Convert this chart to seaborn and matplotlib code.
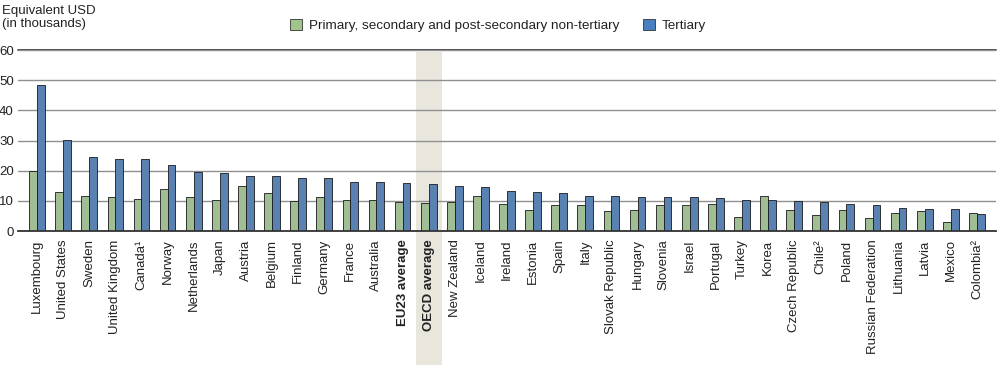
import pandas as pd
import matplotlib
matplotlib.use('Agg')
import matplotlib.pyplot as plt
import matplotlib.transforms as mtransforms
from matplotlib.patches import Rectangle, Patch
import seaborn as sns

countries = ['Luxembourg', 'United States', 'Sweden', 'United Kingdom', 'Canada¹', 'Norway',
             'Netherlands', 'Japan', 'Austria', 'Belgium', 'Finland', 'Germany', 'France',
             'Australia', 'EU23 average', 'OECD average', 'New Zealand', 'Iceland', 'Ireland',
             'Estonia', 'Spain', 'Italy', 'Slovak Republic', 'Hungary', 'Slovenia', 'Israel',
             'Portugal', 'Turkey', 'Korea', 'Czech Republic', 'Chile²', 'Poland',
             'Russian Federation', 'Lithuania', 'Latvia', 'Mexico', 'Colombia²']
non_tertiary = [19.8, 13.1, 11.6, 11.2, 10.7, 13.8, 11.2, 10.2, 14.8, 12.5, 10.1, 11.4, 10.2,
                10.4, 9.7, 9.2, 9.6, 11.7, 9.1, 6.9, 8.6, 8.7, 6.6, 7.0, 8.5, 8.5,
                9.1, 4.5, 11.7, 7.0, 5.4, 6.9, 4.2, 5.9, 6.6, 3.1, 5.9]
tertiary = [48.5, 30.2, 24.5, 23.8, 23.8, 22.0, 19.7, 19.2, 18.4, 18.3, 17.6, 17.5, 16.2,
            16.2, 15.8, 15.5, 15.0, 14.6, 13.2, 13.0, 12.5, 11.6, 11.5, 11.3, 11.3, 11.2,
            11.1, 10.4, 10.4, 10.1, 9.7, 9.0, 8.5, 7.8, 7.4, 7.3, 5.8]
series = ['Primary, secondary and post-secondary non-tertiary', 'Tertiary']
colors = ['#9fc48c', '#4a7fc1']
bold_labels = ['EU23 average', 'OECD average']
highlight = 'OECD average'

df = pd.DataFrame({'country': countries * 2,
                   'value': non_tertiary + tertiary,
                   'level': [series[0]] * len(countries) + [series[1]] * len(countries)})

sns.set_style('white')
plt.rcParams['font.family'] = ['Liberation Sans', 'DejaVu Sans']
text_color = '#222222'

fig = plt.figure(figsize=(10, 3.65), dpi=100)
ax = fig.add_axes([0.018, 0.367, 0.978, 0.496])

sns.barplot(data=df, x='country', y='value', hue='level', palette=colors,
            width=0.6, edgecolor='#1a1a1a', linewidth=0.6, ax=ax, legend=False, zorder=3)

# shaded column behind the OECD average, running down through the labels
idx = countries.index(highlight)
trans = mtransforms.blended_transform_factory(ax.transData, fig.transFigure)
ax.add_patch(Rectangle((idx - 0.5, 0), 1.0, 0.858, transform=trans, facecolor='#e9e7dd',
                       edgecolor='none', clip_on=False, zorder=0))

ax.set_ylim(0, 60)
ax.set_xlim(-0.73, len(countries) - 0.27)
ax.set_yticks(range(0, 61, 10))
ax.yaxis.grid(True, color='#909090', linewidth=1.0, zorder=1)
ax.set_axisbelow(False)
for line in ax.get_ygridlines():
    line.set_zorder(1)
ax.axhline(60, color='#444444', linewidth=1.3, zorder=2, clip_on=False)
for s in ['top', 'left', 'right']:
    ax.spines[s].set_visible(False)
ax.spines['bottom'].set_color('#333333')
ax.spines['bottom'].set_linewidth(1.3)
ax.spines['bottom'].set_zorder(4)
ax.patch.set_alpha(0)

ax.tick_params(axis='both', length=0, labelsize=9.5, colors=text_color)
ax.tick_params(axis='y', pad=3)
ax.tick_params(axis='x', pad=6)
ax.set_xticks(range(len(countries)))
ax.set_xticklabels(countries, rotation=90)
for lbl in ax.get_xticklabels():
    if lbl.get_text() in bold_labels:
        lbl.set_fontweight('bold')
ax.set_xlabel('')
ax.set_ylabel('')

fig.text(0.002, 0.985, 'Equivalent USD\n(in thousands)', ha='left', va='top',
         fontsize=9.5, color=text_color, linespacing=1.05)

handles = [Patch(facecolor=c, edgecolor='#333333', linewidth=0.6) for c in colors]
fig.legend(handles, series, loc='center', bbox_to_anchor=(0.498, 0.93), ncol=2,
           frameon=False, fontsize=9.7, handlelength=0.9, handleheight=0.9,
           handletextpad=0.5, columnspacing=1.8, labelcolor=text_color)

fig.savefig('out.png', dpi=100)
